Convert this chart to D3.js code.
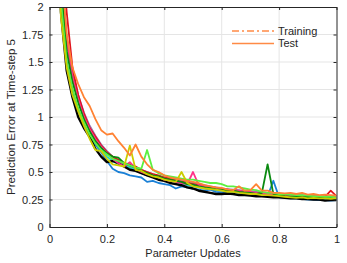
<!DOCTYPE html>
<html><head><meta charset="utf-8">
<script src="https://cdn.jsdelivr.net/npm/d3@7"></script>
<style>body{margin:0;background:#fff}svg{display:block;font-family:"Liberation Sans",Arial,sans-serif}</style>
</head><body><svg id="c" width="347" height="263"></svg>
<script>
const xValues = [0.02,0.04,0.06,0.08,0.10,0.12,0.14,0.16,0.18,0.20,0.22,0.24,0.26,0.28,0.30,0.32,0.34,0.36,0.38,0.40,0.42,0.44,0.46,0.48,0.50,0.52,0.54,0.56,0.58,0.60,0.62,0.64,0.66,0.68,0.70,0.72,0.74,0.76,0.78,0.80,0.82,0.84,0.86,0.88,0.90,0.92,0.94,0.96,0.98,1.00];
const purple = [4.0,2.4,1.72,1.40,1.20,1.04,0.92,0.83,0.75,0.69,0.64,0.60,0.57,0.55,0.53,0.52,0.50,0.48,0.46,0.45,0.44,0.43,0.42,0.41,0.40,0.39,0.38,0.37,0.36,0.35,0.345,0.34,0.335,0.33,0.325,0.32,0.315,0.31,0.305,0.30,0.30,0.295,0.29,0.29,0.285,0.285,0.28,0.28,0.275,0.275];
const cyan = [3.2,2.0,1.48,1.22,1.05,0.93,0.83,0.75,0.69,0.64,0.60,0.57,0.56,0.54,0.52,0.49,0.47,0.46,0.44,0.43,0.42,0.40,0.39,0.38,0.37,0.36,0.35,0.345,0.335,0.33,0.32,0.315,0.31,0.305,0.30,0.295,0.29,0.29,0.285,0.28,0.275,0.275,0.27,0.265,0.265,0.26,0.26,0.255,0.255,0.25];
const blue = [3.4,2.1,1.5,1.24,1.06,0.93,0.83,0.75,0.68,0.60,0.53,0.50,0.49,0.47,0.46,0.45,0.41,0.42,0.40,0.39,0.38,0.35,0.37,0.36,0.35,0.34,0.33,0.34,0.32,0.315,0.31,0.30,0.30,0.295,0.29,0.285,0.28,0.28,0.42,0.27,0.265,0.26,0.26,0.255,0.25,0.25,0.245,0.245,0.24,0.245];
const black = [3.3,1.95,1.42,1.18,1.0,0.90,0.82,0.71,0.64,0.59,0.60,0.58,0.55,0.52,0.51,0.49,0.47,0.45,0.43,0.42,0.40,0.39,0.38,0.36,0.35,0.33,0.32,0.31,0.30,0.30,0.305,0.30,0.29,0.29,0.285,0.28,0.28,0.275,0.27,0.27,0.265,0.26,0.26,0.255,0.255,0.25,0.25,0.24,0.245,0.245];
const red = [4.2,2.6,1.95,1.45,1.2,1.03,0.90,0.82,0.74,0.68,0.64,0.61,0.58,0.57,0.55,0.52,0.50,0.48,0.47,0.45,0.44,0.42,0.41,0.40,0.39,0.38,0.37,0.36,0.355,0.345,0.34,0.33,0.325,0.32,0.31,0.305,0.305,0.30,0.295,0.29,0.285,0.29,0.28,0.28,0.275,0.28,0.27,0.275,0.33,0.28];
const pink = [3.9,2.35,1.68,1.36,1.16,1.0,0.89,0.80,0.73,0.67,0.62,0.58,0.55,0.59,0.53,0.50,0.48,0.47,0.45,0.43,0.42,0.41,0.40,0.39,0.50,0.38,0.37,0.36,0.35,0.345,0.34,0.335,0.33,0.32,0.32,0.31,0.305,0.30,0.30,0.295,0.29,0.29,0.285,0.285,0.28,0.28,0.275,0.275,0.27,0.27];
const darkGreen = [3.6,2.2,1.6,1.32,1.13,0.98,0.87,0.78,0.72,0.67,0.64,0.63,0.58,0.56,0.54,0.51,0.49,0.47,0.46,0.44,0.43,0.42,0.41,0.39,0.385,0.37,0.36,0.355,0.345,0.34,0.33,0.33,0.32,0.315,0.31,0.30,0.31,0.57,0.30,0.29,0.28,0.275,0.28,0.27,0.275,0.27,0.265,0.27,0.265,0.26];
const lightGreen = [3.3,2.05,1.5,1.26,1.08,0.95,0.84,0.76,0.70,0.66,0.62,0.60,0.58,0.56,0.54,0.53,0.70,0.52,0.49,0.47,0.46,0.45,0.44,0.43,0.43,0.42,0.41,0.40,0.40,0.39,0.37,0.37,0.36,0.35,0.34,0.335,0.32,0.31,0.31,0.30,0.30,0.295,0.29,0.29,0.285,0.28,0.28,0.275,0.275,0.27];
const yellow = [3.0,1.9,1.45,1.2,1.05,0.92,0.80,0.70,0.69,0.62,0.57,0.56,0.55,0.74,0.52,0.51,0.48,0.46,0.45,0.43,0.42,0.41,0.50,0.40,0.37,0.36,0.35,0.345,0.34,0.33,0.32,0.32,0.31,0.305,0.30,0.30,0.29,0.29,0.285,0.28,0.275,0.27,0.265,0.27,0.26,0.265,0.26,0.26,0.255,0.26];
const orange = [3.9,2.4,1.75,1.45,1.30,1.18,1.10,0.98,0.88,0.84,0.85,0.78,0.72,0.65,0.75,0.64,0.57,0.52,0.50,0.47,0.45,0.44,0.43,0.42,0.41,0.40,0.38,0.37,0.36,0.355,0.34,0.335,0.37,0.33,0.335,0.39,0.33,0.33,0.31,0.31,0.305,0.31,0.30,0.31,0.295,0.30,0.29,0.295,0.29,0.285];
const xTicks = [0,0.2,0.4,0.6,0.8,1];
const yTicks = [0,0.25,0.5,0.75,1,1.25,1.5,1.75,2];
const legendLabels = ["Training","Test"];

const series = [
  {v: purple, c: "#9a6fb0", w: 1.8},
  {v: cyan, c: "#25d0c0", w: 1.8},
  {v: blue, c: "#1a80d6", w: 1.8},
  {v: black, c: "#000000", w: 2.4},
  {v: red, c: "#e0141e", w: 1.8},
  {v: pink, c: "#ff3088", w: 1.8},
  {v: darkGreen, c: "#0a8a10", w: 1.8},
  {v: lightGreen, c: "#5cf040", w: 1.8},
  {v: yellow, c: "#cccc00", w: 1.8},
  {v: orange, c: "#ff8233", w: 1.8}
];

const svg = d3.select("#c");
const L = 49.5, R = 336.5, T = 7, B = 227;
const x = d3.scaleLinear().domain([0,1]).range([L,R]);
const y = d3.scaleLinear().domain([0,2]).range([B,T]);
const axisColor = "#262626";

// grid
svg.append("g").selectAll("line").data(xTicks.slice(1,-1)).join("line")
  .attr("x1", d=>x(d)).attr("x2", d=>x(d)).attr("y1", T).attr("y2", B)
  .attr("stroke", "#e5e5e5").attr("stroke-width", 1);
svg.append("g").selectAll("line").data(yTicks.slice(1,-1)).join("line")
  .attr("y1", d=>y(d)).attr("y2", d=>y(d)).attr("x1", L).attr("x2", R)
  .attr("stroke", "#e5e5e5").attr("stroke-width", 1);

svg.append("defs").append("clipPath").attr("id","clip").append("rect")
  .attr("x", L).attr("y", T).attr("width", R-L).attr("height", B-T);

const line = d3.line().x((d,i)=>x(xValues[i])).y(d=>y(d));
const gl = svg.append("g").attr("clip-path","url(#clip)");
series.forEach(s=>{
  gl.append("path").attr("d", line(s.v)).attr("fill","none")
    .attr("stroke", s.c).attr("stroke-width", s.w).attr("stroke-linejoin","round");
});

// axes
const fmt = d => d===0 ? "0" : (d===1 ? "1" : String(d));
const gx = svg.append("g").attr("transform", `translate(0,${B})`)
  .call(d3.axisBottom(x).tickValues(xTicks).tickFormat(fmt).tickSizeInner(-3).tickSizeOuter(0).tickPadding(8));
const gxt = svg.append("g").attr("transform", `translate(0,${T})`)
  .call(d3.axisTop(x).tickValues(xTicks).tickFormat("").tickSizeInner(-3).tickSizeOuter(0));
const gy = svg.append("g").attr("transform", `translate(${L},0)`)
  .call(d3.axisLeft(y).tickValues(yTicks).tickFormat(fmt).tickSizeInner(-3).tickSizeOuter(0).tickPadding(6));
const gyr = svg.append("g").attr("transform", `translate(${R},0)`)
  .call(d3.axisRight(y).tickValues(yTicks).tickFormat("").tickSizeInner(-3).tickSizeOuter(0));
[gx,gxt,gy,gyr].forEach(g=>{
  g.select(".domain").attr("stroke", axisColor).attr("stroke-width", 1);
  g.selectAll(".tick line").attr("stroke", axisColor);
  g.selectAll("text").attr("fill", axisColor).attr("font-size", 11)
    .attr("font-family", '"Liberation Sans",Arial,sans-serif');
});

svg.append("text").attr("x", (L+R)/2).attr("y", 257).attr("text-anchor","middle")
  .attr("font-size", 11).attr("fill", axisColor).text("Parameter Updates");
svg.append("text").attr("transform", `translate(15,${(T+B)/2}) rotate(-90)`)
  .attr("text-anchor","middle").attr("font-size", 11.5).attr("fill", axisColor)
  .text("Prediction Error at Time-step 5");

// legend
const lg = svg.append("g");
const legDash = ["7,3,2,3", null];
legendLabels.forEach((t,i)=>{
  const yy = 31 + i*12.5;
  lg.append("line").attr("x1", 232).attr("x2", 274).attr("y1", yy).attr("y2", yy)
    .attr("stroke", "#ff8a45").attr("stroke-width", 1.5)
    .attr("stroke-dasharray", legDash[i]);
  lg.append("text").attr("x", 278).attr("y", yy).attr("dy","0.35em")
    .attr("font-size", 11).attr("fill", axisColor).text(t);
});
</script></body></html>
